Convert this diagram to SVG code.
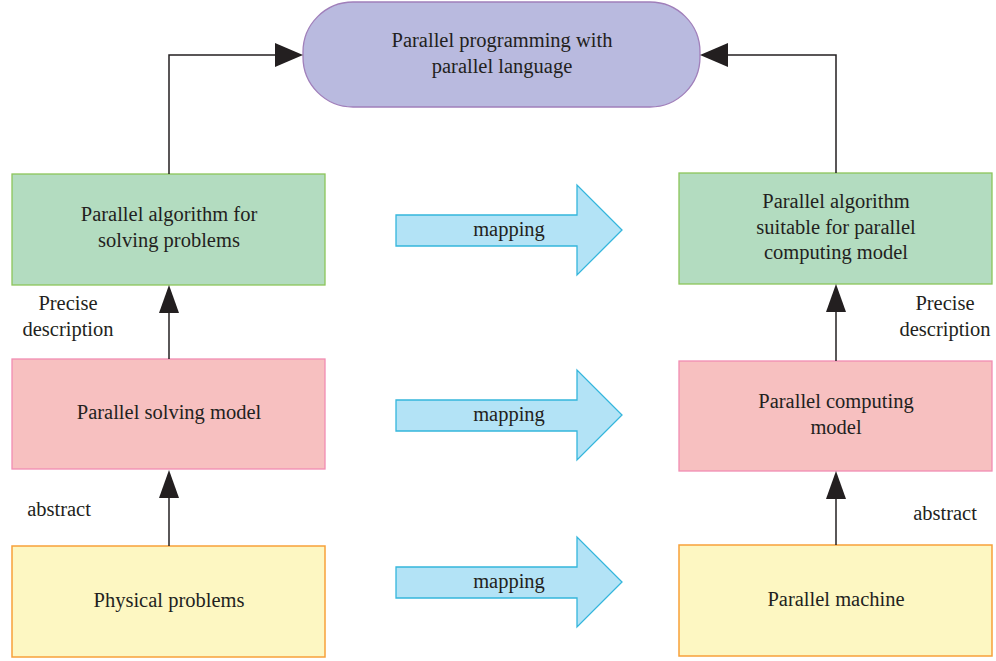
<svg xmlns="http://www.w3.org/2000/svg" width="996" height="661" viewBox="0 0 996 661">
<defs>
<style>
text{font-family:"Liberation Serif","DejaVu Serif",serif;font-size:20.5px;fill:#231f20;text-anchor:middle}
.g{fill:#b3dcc0;stroke:#8dc55a;stroke-width:1.3}
.p{fill:#f7c0c0;stroke:#f28db2;stroke-width:1.3}
.y{fill:#fdf7c2;stroke:#f7a13a;stroke-width:1.5}
.m{fill:#b3e3f6;stroke:#35b6dc;stroke-width:1.3}
.c{fill:none;stroke:#231f20;stroke-width:1.5}
.h{fill:#231f20}
</style>
</defs>
<g id="top">
<rect x="303" y="2" width="397" height="105" rx="50" ry="50" fill="#b9badf" stroke="#a07fba" stroke-width="1.3"/>
<text x="502" y="47">Parallel programming with</text>
<text x="502" y="73">parallel language</text>
</g>
<g id="algL">
<rect class="g" x="12" y="174" width="313" height="111"/>
<text x="169" y="221">Parallel algorithm for</text>
<text x="169" y="247">solving problems</text>
</g>
<g id="algR">
<rect class="g" x="679" y="173" width="313" height="111"/>
<text x="836" y="208">Parallel algorithm</text>
<text x="836" y="234">suitable for parallel</text>
<text x="836" y="259">computing model</text>
</g>
<g id="modL">
<rect class="p" x="12" y="359" width="313" height="110"/>
<text x="169" y="419">Parallel solving model</text>
</g>
<g id="modR">
<rect class="p" x="679" y="361" width="313" height="110"/>
<text x="836" y="408">Parallel computing</text>
<text x="836" y="434">model</text>
</g>
<g id="phyL">
<rect class="y" x="12" y="546" width="313" height="111"/>
<text x="169" y="607">Physical problems</text>
</g>
<g id="phyR">
<rect class="y" x="679" y="545" width="313" height="111"/>
<text x="836" y="606">Parallel machine</text>
</g>
<g id="map1">
<path class="m" d="M396,215 H577 V185 L622,230 L577,275 V246 H396 Z"/>
<text x="509" y="236">mapping</text>
</g>
<g id="map2">
<path class="m" d="M396,400 H577 V370 L622,415 L577,460 V431 H396 Z"/>
<text x="509" y="421">mapping</text>
</g>
<g id="map3">
<path class="m" d="M396,567 H577 V537 L622,582 L577,627 V598 H396 Z"/>
<text x="509" y="588">mapping</text>
</g>
<g id="connectors">
<path class="c" d="M169,174 V55 H280"/>
<path class="h" d="M275,43 L303,55 L275,67 Z"/>
<path class="c" d="M836,173 V55 H725"/>
<path class="h" d="M728,43 L700,55 L728,67 Z"/>
<path class="c" d="M169,359 V310"/>
<path class="h" d="M159,313 L169,285 L179,313 Z"/>
<path class="c" d="M169,546 V495"/>
<path class="h" d="M159,498 L169,470 L179,498 Z"/>
<path class="c" d="M836,361 V310"/>
<path class="h" d="M826,312 L836,284 L846,312 Z"/>
<path class="c" d="M836,545 V495"/>
<path class="h" d="M826,499 L836,471 L846,499 Z"/>
</g>
<g id="labels">
<text x="68" y="310">Precise</text>
<text x="68" y="336">description</text>
<text x="945" y="310">Precise</text>
<text x="945" y="336">description</text>
<text x="59" y="516">abstract</text>
<text x="945" y="520">abstract</text>
</g>
</svg>
